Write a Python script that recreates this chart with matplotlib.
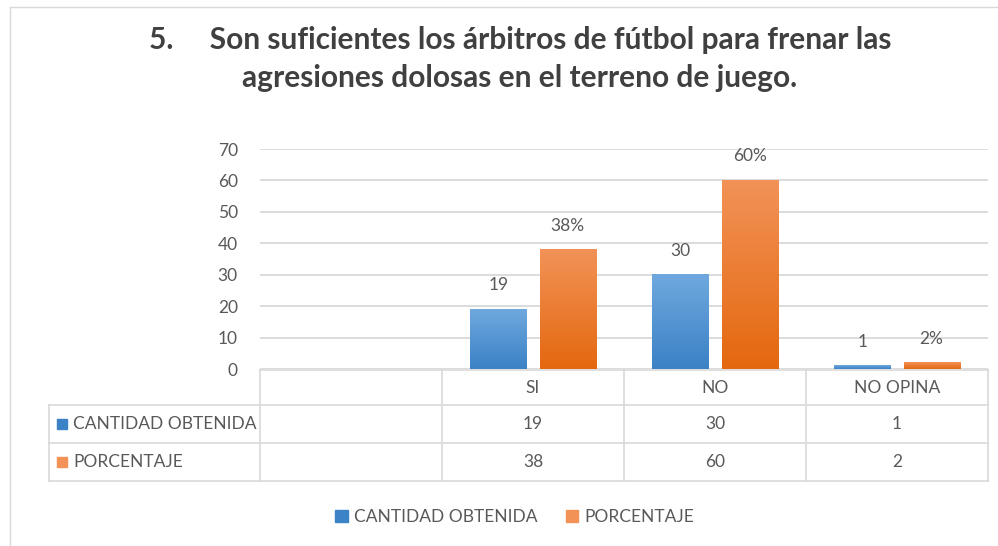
import numpy as np
import matplotlib.pyplot as plt
from matplotlib.patches import Rectangle, Patch
from matplotlib.lines import Line2D
from matplotlib.colors import LinearSegmentedColormap

# data
categories = ["", "SI", "NO", "NO OPINA"]
cantidad = [None, 19, 30, 1]
porcentaje = [None, 38, 60, 2]
series_names = ["CANTIDAD OBTENIDA", "PORCENTAJE"]
title = "5.     Son suficientes los árbitros de fútbol para frenar las\nagresiones dolosas en el terreno de juego."

W, H = 998, 546
blue_top, blue_bot = "#6FA8DE", "#3B82C6"
orng_top, orng_bot = "#F29257", "#E4680F"
text_col = "#595959"
grid_col = "#D9D9D9"

plt.rcParams['font.family'] = ['Lato', 'DejaVu Sans']

fig = plt.figure(figsize=(W / 100, H / 100), dpi=100)

def fx(px):
    return px / W

def fy(py):
    return 1 - py / H

# chart border
fig.patches.append(Rectangle((fx(10), -0.05), 1.1, fy(7) + 0.05, transform=fig.transFigure,
                             fill=False, edgecolor=grid_col, lw=1))

fig.text(fx(520), fy(59), title, ha='center', va='center', fontsize=21.5, fontweight='bold',
         color='#404040', linespacing=1.4)

# plot area
ax = fig.add_axes([fx(260), fy(369), fx(988) - fx(260), (369 - 149) / H])
x = np.arange(len(categories))
off, bw = 0.19, 0.308
vals_c = [v if v is not None else 0 for v in cantidad]
vals_p = [v if v is not None else 0 for v in porcentaje]
bars_c = ax.bar(x - off, vals_c, bw, color=blue_bot, zorder=2)
bars_p = ax.bar(x + off, vals_p, bw, color=orng_bot, zorder=2)

grad = np.linspace(1, 0, 64).reshape(-1, 1)
for bars, top, bot, vals, fmt in [(bars_c, blue_top, blue_bot, cantidad, "{}"),
                                  (bars_p, orng_top, orng_bot, porcentaje, "{}%")]:
    cmap = LinearSegmentedColormap.from_list("g", [bot, top])
    for b, v in zip(bars, vals):
        if v is None:
            b.set_visible(False)
            continue
        x0, w, h = b.get_x(), b.get_width(), b.get_height()
        ax.imshow(grad, cmap=cmap, extent=[x0, x0 + w, 0, h], aspect='auto', zorder=3,
                  interpolation='bilinear')
        ax.annotate(fmt.format(v), (x0 + w / 2, h), xytext=(0, 24), textcoords='offset pixels',
                    ha='center', va='center', fontsize=12.5, color=text_col)

ax.set_xlim(-0.5, len(categories) - 0.5)
ax.set_ylim(0, 70)
ax.set_yticks(range(0, 71, 10))
ax.yaxis.grid(True, color=grid_col, lw=1.3)
ax.set_axisbelow(True)
ax.set_xticks([])
ax.tick_params(axis='y', length=0, pad=16, labelsize=12.5, labelcolor=text_col)
for s in ax.spines.values():
    s.set_visible(False)

# data table
col_w = (988 - 260) / len(categories)
rows_y = [370, 405, 443, 481]
lk = dict(transform=fig.transFigure, color=grid_col, lw=1.2)
fig.lines.append(Line2D([fx(260), fx(988)], [fy(370)] * 2, **lk))
for yy in rows_y[1:]:
    fig.lines.append(Line2D([fx(49), fx(988)], [fy(yy)] * 2, **lk))
fig.lines.append(Line2D([fx(49)] * 2, [fy(405), fy(481)], **lk))
for i in range(len(categories) + 1):
    xx = 260 + i * col_w
    fig.lines.append(Line2D([fx(xx)] * 2, [fy(370), fy(481)], **lk))

tk = dict(ha='center', va='center', fontsize=12.5, color=text_col)
for i, cat in enumerate(categories):
    cx = 260 + (i + 0.5) * col_w
    fig.text(fx(cx), fy(388), cat, **tk)
    if cantidad[i] is not None:
        fig.text(fx(cx), fy(424), str(cantidad[i]), **tk)
    if porcentaje[i] is not None:
        fig.text(fx(cx), fy(462), str(porcentaje[i]), **tk)

for yc, name, col in [(424, series_names[0], blue_bot), (462, series_names[1], orng_top)]:
    fig.patches.append(Rectangle((fx(57), fy(yc + 5)), fx(10), 10 / H, transform=fig.transFigure,
                                 color=col))
    fig.text(fx(73), fy(yc), name, ha='left', va='center', fontsize=12.5, color=text_col)

# legend
handles = [Patch(color=blue_bot), Patch(color=orng_top)]
fig.legend(handles, series_names, loc='center', bbox_to_anchor=(fx(515), fy(517)), ncol=2,
           frameon=False, fontsize=12.5, labelcolor=text_col, handlelength=0.7, handleheight=0.7,
           handletextpad=0.4, columnspacing=1.6)

fig.savefig("out.png", dpi=100)
